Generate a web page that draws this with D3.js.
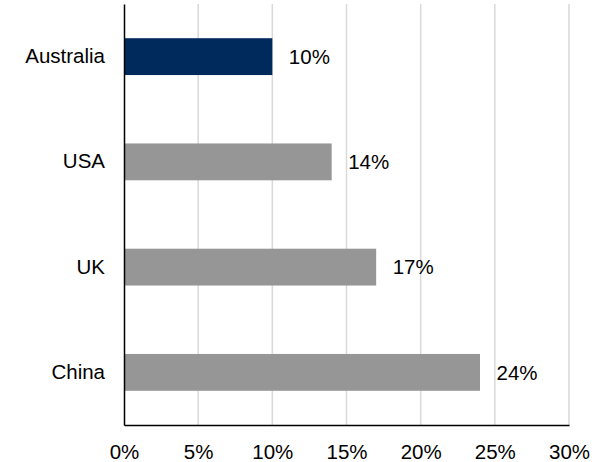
<!DOCTYPE html>
<html>
<head>
<meta charset="utf-8">
<script src="https://cdn.jsdelivr.net/npm/d3@7"></script>
<style>
  html, body { margin: 0; padding: 0; background: #fff; }
  svg { display: block; font-family: "Liberation Sans", Arial, sans-serif; }
</style>
</head>
<body>
<svg id="chart" width="610" height="462"></svg>
<script>
// Share by country (percent)
const countries = ["Australia", "USA", "UK", "China"];
const shares = [10, 14, 17, 24];
const highlight = "Australia";
const xTicks = [0, 5, 10, 15, 20, 25, 30];

const FONT = "Liberation Sans, Arial, sans-serif";
const FS = 20.5;

const svg = d3.select("#chart");
const margin = { top: 4, right: 41, bottom: 37, left: 124 };
const width = 610 - margin.left - margin.right;
const height = 462 - margin.top - margin.bottom;

const g = svg.append("g").attr("transform", `translate(${margin.left},${margin.top})`);

const x = d3.scaleLinear().domain([0, 30]).range([0, width]);
const y = d3.scaleBand().domain(countries).range([0, height]).paddingInner(0.65).paddingOuter(0.325);

// vertical gridlines
g.selectAll(".grid")
  .data(xTicks.slice(1))
  .join("line")
  .attr("x1", d => x(d)).attr("x2", d => x(d))
  .attr("y1", 0).attr("y2", height)
  .attr("stroke", "#d9d9d9")
  .attr("stroke-width", 1.5);

const data = countries.map((c, i) => ({ country: c, value: shares[i] }));

// bars
g.selectAll(".bar")
  .data(data)
  .join("rect")
  .attr("x", x(0))
  .attr("y", d => y(d.country))
  .attr("width", d => x(d.value) - x(0))
  .attr("height", y.bandwidth())
  .attr("fill", d => d.country === highlight ? "#002a5c" : "#969696");

// value labels
g.selectAll(".val")
  .data(data)
  .join("text")
  .attr("x", d => x(d.value) + 16.5)
  .attr("y", d => y(d.country) + y.bandwidth() / 2)
  .attr("dy", "0.35em")
  .attr("font-size", FS)
  .attr("font-family", FONT)
  .attr("fill", "#000")
  .text(d => d.value + "%");

// x axis
const xAxis = g.append("g")
  .attr("transform", `translate(0,${height})`)
  .call(d3.axisBottom(x).tickValues(xTicks).tickFormat(d => d + "%").tickSize(0).tickPadding(19.5));
xAxis.select(".domain").attr("stroke", "#000").attr("stroke-width", 1.5);
xAxis.selectAll("text").attr("font-size", FS).attr("fill", "#000").attr("font-family", FONT);

// y axis
const yAxis = g.append("g")
  .call(d3.axisLeft(y).tickSize(0).tickPadding(19));
yAxis.select(".domain").attr("stroke", "#000").attr("stroke-width", 1.5);
yAxis.selectAll("text").attr("font-size", FS).attr("fill", "#000").attr("font-family", FONT);
</script>
</body>
</html>
